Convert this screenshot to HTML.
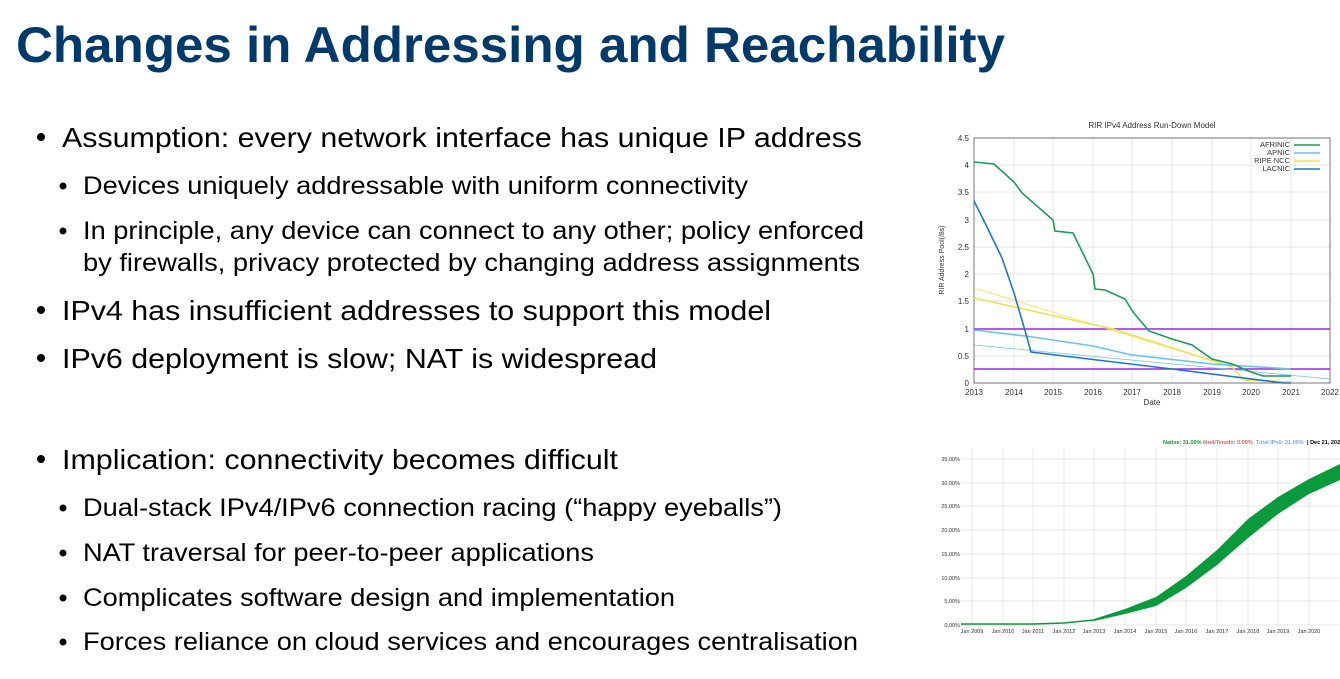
<!DOCTYPE html>
<html><head><meta charset="utf-8"><style>
html,body{margin:0;padding:0;background:#fff;}
svg{display:block;}
</style></head><body>
<svg width="1340" height="679" viewBox="0 0 1340 679" xmlns="http://www.w3.org/2000/svg" font-family="Liberation Sans, Arial, sans-serif">
<rect width="1340" height="679" fill="#fff"/>
<text x="16" y="62" font-size="50" font-weight="bold" fill="#003a6b" textLength="989" lengthAdjust="spacingAndGlyphs">Changes in Addressing and Reachability</text>
<g fill="#000">
<circle cx="41" cy="137" r="4"/><circle cx="63" cy="186" r="3.5"/><circle cx="63" cy="231" r="3.5"/>
<circle cx="41" cy="310" r="4"/><circle cx="41" cy="358" r="4"/><circle cx="41" cy="459" r="4"/>
<circle cx="63" cy="508" r="3.5"/><circle cx="63" cy="553" r="3.5"/><circle cx="63" cy="598" r="3.5"/><circle cx="63" cy="642" r="3.5"/>
<g font-size="28">
<text x="62" y="147" textLength="800" lengthAdjust="spacingAndGlyphs">Assumption: every network interface has unique IP address</text>
<text x="62" y="320" textLength="709" lengthAdjust="spacingAndGlyphs">IPv4 has insufficient addresses to support this model</text>
<text x="62" y="368" textLength="595" lengthAdjust="spacingAndGlyphs">IPv6 deployment is slow; NAT is widespread</text>
<text x="62" y="469" textLength="556" lengthAdjust="spacingAndGlyphs">Implication: connectivity becomes difficult</text>
</g>
<g font-size="25">
<text x="83" y="194" textLength="665" lengthAdjust="spacingAndGlyphs">Devices uniquely addressable with uniform connectivity</text>
<text x="83" y="239" textLength="781" lengthAdjust="spacingAndGlyphs">In principle, any device can connect to any other; policy enforced</text>
<text x="83" y="271" textLength="777" lengthAdjust="spacingAndGlyphs">by firewalls, privacy protected by changing address assignments</text>
<text x="83" y="516" textLength="699" lengthAdjust="spacingAndGlyphs">Dual-stack IPv4/IPv6 connection racing (“happy eyeballs”)</text>
<text x="83" y="561" textLength="511" lengthAdjust="spacingAndGlyphs">NAT traversal for peer-to-peer applications</text>
<text x="83" y="606" textLength="592" lengthAdjust="spacingAndGlyphs">Complicates software design and implementation</text>
<text x="83" y="650" textLength="775" lengthAdjust="spacingAndGlyphs">Forces reliance on cloud services and encourages centralisation</text>
</g>
</g>

<!-- Chart 1 -->
<g font-size="8" fill="#333">
<text x="1152" y="128" text-anchor="middle">RIR IPv4 Address Run-Down Model</text>
<g stroke="#ddd" stroke-width="0.7">
<line x1="974" y1="138" x2="1330" y2="138"/><line x1="974" y1="165" x2="1330" y2="165"/><line x1="974" y1="192" x2="1330" y2="192"/><line x1="974" y1="220" x2="1330" y2="220"/><line x1="974" y1="247" x2="1330" y2="247"/><line x1="974" y1="274" x2="1330" y2="274"/><line x1="974" y1="301" x2="1330" y2="301"/><line x1="974" y1="356" x2="1330" y2="356"/>
<line x1="1014" y1="138" x2="1014" y2="383"/><line x1="1053" y1="138" x2="1053" y2="383"/><line x1="1093" y1="138" x2="1093" y2="383"/><line x1="1132" y1="138" x2="1132" y2="383"/><line x1="1172" y1="138" x2="1172" y2="383"/><line x1="1212" y1="138" x2="1212" y2="383"/><line x1="1251" y1="138" x2="1251" y2="383"/><line x1="1291" y1="138" x2="1291" y2="383"/>
</g>
<rect x="974" y="138" width="356" height="245" fill="none" stroke="#555" stroke-width="0.8"/>
<g text-anchor="end"><text x="969" y="141">4.5</text><text x="969" y="168">4</text><text x="969" y="195">3.5</text><text x="969" y="223">3</text><text x="969" y="250">2.5</text><text x="969" y="277">2</text><text x="969" y="304">1.5</text><text x="969" y="332">1</text><text x="969" y="359">0.5</text><text x="969" y="386">0</text></g>
<g text-anchor="middle"><text x="974" y="395">2013</text><text x="1014" y="395">2014</text><text x="1053" y="395">2015</text><text x="1093" y="395">2016</text><text x="1132" y="395">2017</text><text x="1172" y="395">2018</text><text x="1212" y="395">2019</text><text x="1251" y="395">2020</text><text x="1291" y="395">2021</text><text x="1330" y="395">2022</text>
<text x="1152" y="405">Date</text></g>
<text transform="translate(944,260) rotate(-90)" text-anchor="middle" font-size="7">RIR Address Pool(/8s)</text>
<g text-anchor="end" font-size="7.5"><text x="1290" y="147">AFRINIC</text><text x="1290" y="155">APNIC</text><text x="1290" y="163">RIPE NCC</text><text x="1290" y="171">LACNIC</text></g>
</g>
<g fill="none" stroke-width="1.6">
<line x1="1294" y1="145" x2="1320" y2="145" stroke="#1a9b5b"/><line x1="1294" y1="153" x2="1320" y2="153" stroke="#6ec1ef"/><line x1="1294" y1="161" x2="1320" y2="161" stroke="#f3e050"/><line x1="1294" y1="169" x2="1320" y2="169" stroke="#1f78c0"/>
<line x1="974" y1="329" x2="1330" y2="329" stroke="#a020f0"/><line x1="974" y1="369" x2="1330" y2="369" stroke="#a020f0"/>
<line x1="974" y1="288" x2="1232" y2="367" stroke="#f3e050" stroke-width="0.7"/>
<line x1="974" y1="345" x2="1330" y2="379" stroke="#6ec1ef" stroke-width="0.7"/>
<polyline stroke="#f3e050" points="974,298 1113,329 1232,367 1244,380 1291,382"/>
<polyline stroke="#6ec1ef" points="974,330 1033,337 1093,346 1132,355 1212,364 1291,369"/>
<polyline stroke="#1f78c0" points="974,201 986,225 1002,258 1014,293 1026,334 1031,352 1172,369 1283,383 1291,383"/>
<polyline stroke="#1a9b5b" points="974,162 994,164 1014,182 1022,193 1053,220 1055,231 1073,233 1093,274 1095,289 1105,290 1125,299 1133,312 1149,331 1172,339 1192,345 1212,359 1232,364 1251,372 1263,376 1291,376"/>
</g>

<!-- Chart 2 -->
<g font-size="5.5" fill="#333">
<text x="1163" y="444" fill="#0a9a3c" font-weight="bold">Native: 31.00%</text>
<text x="1203" y="444" fill="#e06060" font-weight="bold">6to4/Teredo: 0.00%</text>
<text x="1256" y="444" fill="#80a8e0" font-weight="bold">Total IPv6: 31.00%</text>
<text x="1307" y="444" fill="#000" font-weight="bold">| Dec 21, 2020</text>
<g stroke="#ddd" stroke-width="0.7">
<line x1="961" y1="459" x2="1340" y2="459"/><line x1="961" y1="483" x2="1340" y2="483"/><line x1="961" y1="506" x2="1340" y2="506"/><line x1="961" y1="530" x2="1340" y2="530"/><line x1="961" y1="554" x2="1340" y2="554"/><line x1="961" y1="578" x2="1340" y2="578"/><line x1="961" y1="601" x2="1340" y2="601"/><line x1="961" y1="625" x2="1340" y2="625"/>
<line x1="972" y1="448" x2="972" y2="625"/><line x1="1003" y1="448" x2="1003" y2="625"/><line x1="1033" y1="448" x2="1033" y2="625"/><line x1="1064" y1="448" x2="1064" y2="625"/><line x1="1094" y1="448" x2="1094" y2="625"/><line x1="1125" y1="448" x2="1125" y2="625"/><line x1="1156" y1="448" x2="1156" y2="625"/><line x1="1186" y1="448" x2="1186" y2="625"/><line x1="1217" y1="448" x2="1217" y2="625"/><line x1="1248" y1="448" x2="1248" y2="625"/><line x1="1278" y1="448" x2="1278" y2="625"/><line x1="1309" y1="448" x2="1309" y2="625"/>
</g>
<g text-anchor="end"><text x="960" y="461">35.00%</text><text x="960" y="485">30.00%</text><text x="960" y="508">25.00%</text><text x="960" y="532">20.00%</text><text x="960" y="556">15.00%</text><text x="960" y="580">10.00%</text><text x="960" y="603">5.00%</text><text x="960" y="627">0.00%</text></g>
<g text-anchor="middle"><text x="972" y="633">Jan 2009</text><text x="1003" y="633">Jan 2010</text><text x="1033" y="633">Jan 2011</text><text x="1064" y="633">Jan 2012</text><text x="1094" y="633">Jan 2013</text><text x="1125" y="633">Jan 2014</text><text x="1156" y="633">Jan 2015</text><text x="1186" y="633">Jan 2016</text><text x="1217" y="633">Jan 2017</text><text x="1248" y="633">Jan 2018</text><text x="1278" y="633">Jan 2019</text><text x="1309" y="633">Jan 2020</text></g>
</g>
<polyline fill="none" stroke="#0a9a3c" stroke-width="1.5" points="961,624 1033,624 1064,623 1094,620"/>
<polygon fill="#0a9a3c" points="1094,619 1125,609 1156,597 1186,576 1217,550 1248,519 1278,497 1309,479 1340,464 1340,480 1309,494 1278,514 1248,538 1217,565 1186,588 1156,606 1125,614 1094,621"/>
</svg>
</body></html>
